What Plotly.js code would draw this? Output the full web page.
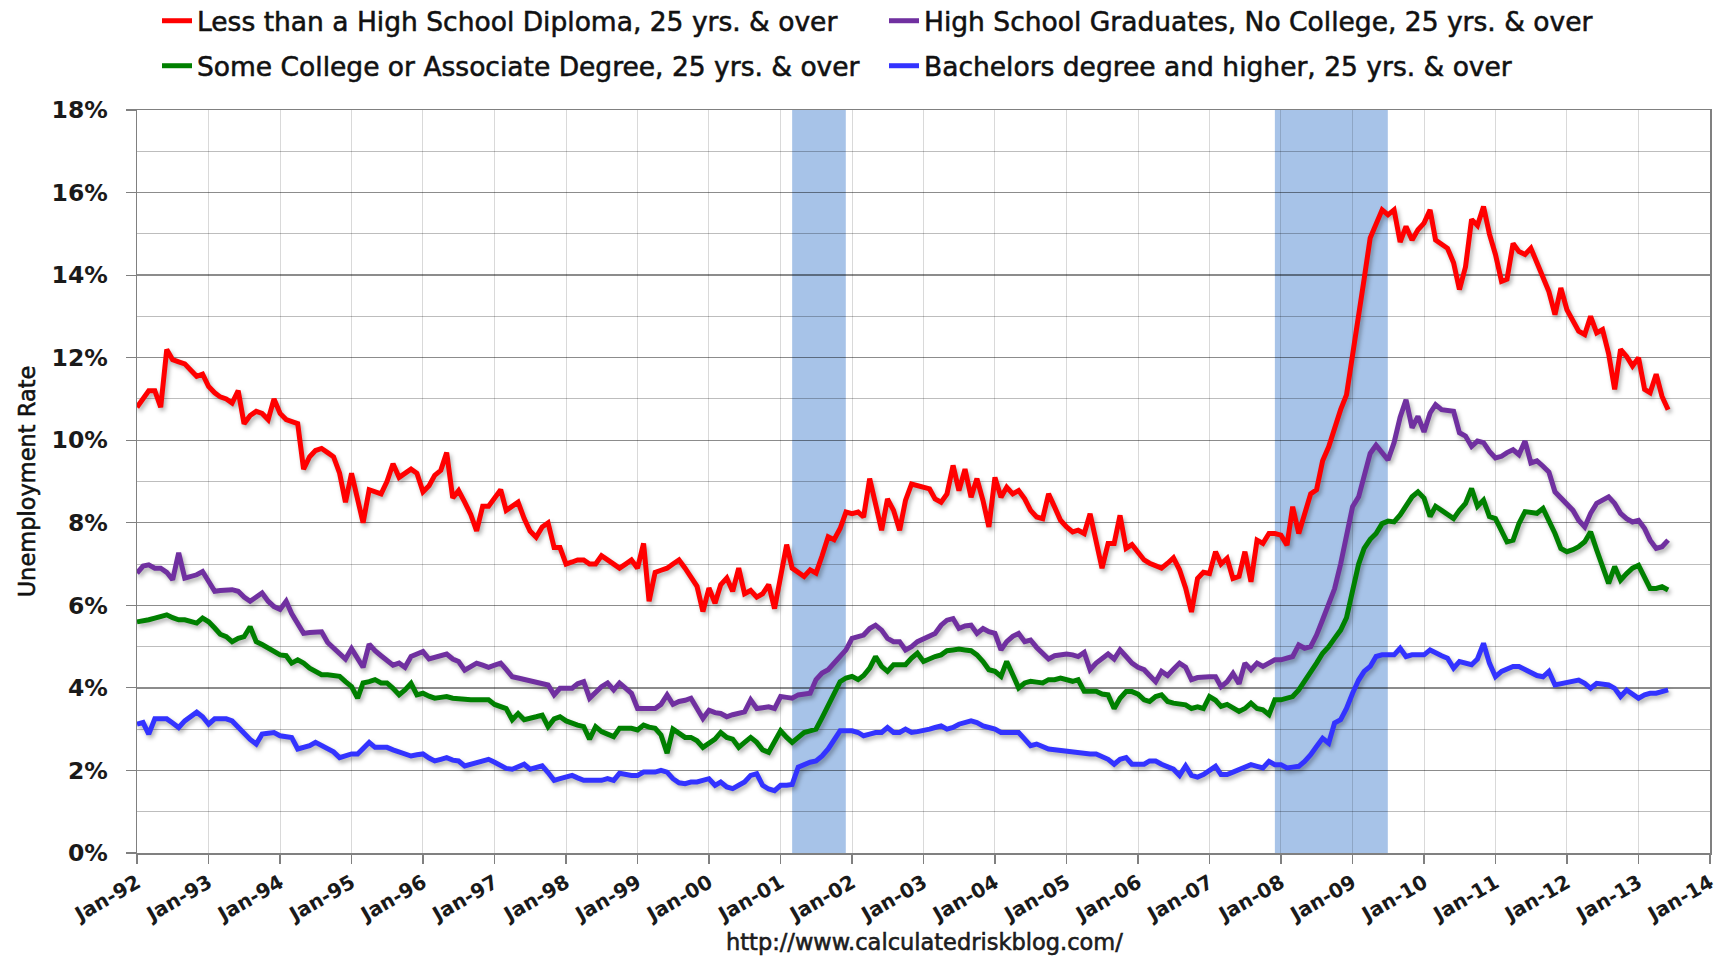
<!DOCTYPE html>
<html>
<head>
<meta charset="utf-8">
<script src="https://cdn.plot.ly/plotly-3.0.1.min.js"></script>
<style>
  html, body { margin: 0; padding: 0; background: #ffffff; }
  #chart { width: 1722px; height: 958px; }
  .scatterlayer .trace .js-line { filter: drop-shadow(2px 3px 2px rgba(0,0,0,0.30)); }
  .infolayer text { stroke: #111111 !important; stroke-width: 0.55px !important; }
</style>
</head>
<body>
<div id="chart"></div>
<script>
// Monthly series, Jan 1992 .. Jun 2013 (values in %)
const startYear = 1992;

const lessThanHS = [
  10.8, 11.0, 11.2, 11.2, 10.8, 12.2, 11.95, 11.9, 11.85, 11.7, 11.55, 11.6,   // 1992
  11.3, 11.15, 11.05, 11.0, 10.9, 11.2, 10.4, 10.6, 10.7, 10.65, 10.5, 11.0,   // 1993
  10.65, 10.5, 10.45, 10.4, 9.3, 9.6, 9.75, 9.8, 9.7, 9.6, 9.2, 8.5,           // 1994
  9.2, 8.6, 8.0, 8.8, 8.75, 8.7, 9.0, 9.43, 9.1, 9.2, 9.3, 9.2,                // 1995
  8.75, 8.9, 9.15, 9.27, 9.7, 8.6, 8.78, 8.5, 8.2, 7.8, 8.4, 8.4,              // 1996
  8.6, 8.8, 8.3, 8.4, 8.5, 8.1, 7.8, 7.65, 7.9, 8.0, 7.4, 7.4,                 // 1997
  7.0, 7.05, 7.1, 7.1, 7.0, 7.0, 7.2, 7.1, 7.0, 6.9, 7.0, 7.1,                 // 1998
  6.9, 7.5, 6.1, 6.8, 6.85, 6.9, 7.0, 7.1, 6.9, 6.7, 6.46, 5.85,               // 1999
  6.42, 6.05, 6.5, 6.66, 6.34, 6.9, 6.28, 6.36, 6.2, 6.28, 6.5, 5.92,          // 2000
  6.7, 7.47, 6.9, 6.78, 6.7, 6.86, 6.78, 7.2, 7.66, 7.59, 7.86, 8.26,          // 2001
  8.22, 8.26, 8.14, 9.07, 8.5, 7.82, 8.58, 8.3, 7.82, 8.54, 8.94, 8.9,         // 2002
  8.86, 8.82, 8.58, 8.5, 8.7, 9.39, 8.78, 9.3, 8.62, 9.07, 8.54, 7.9,          // 2003
  9.1, 8.62, 8.86, 8.7, 8.78, 8.58, 8.3, 8.14, 8.1, 8.7, 8.38, 8.06,           // 2004
  7.9, 7.78, 7.82, 7.74, 8.22, 7.5, 6.9, 7.5, 7.5, 8.18, 7.38, 7.47,           // 2005
  7.27, 7.1, 7.02, 6.95, 6.9, 7.02, 7.15, 6.86, 6.42, 5.84, 6.65, 6.8,         // 2006
  6.77, 7.3, 7.0, 7.14, 6.65, 6.7, 7.3, 6.57, 7.58, 7.5, 7.74, 7.74,           // 2007
  7.7, 7.46, 8.39, 7.74, 8.18, 8.7, 8.8, 9.5, 9.84, 10.3, 10.74, 11.1,         // 2008
  12.0, 13.0, 13.9, 14.9, 15.26, 15.58, 15.46, 15.58, 14.8, 15.18, 14.85, 15.1, // 2009
  15.26, 15.58, 14.85, 14.75, 14.65, 14.3, 13.65, 14.2, 15.35, 15.2, 15.66, 15.0, // 2010
  14.5, 13.85, 13.9, 14.77, 14.57, 14.5, 14.65, 14.3, 13.97, 13.6, 13.04, 13.69, // 2011
  13.16, 12.92, 12.64, 12.56, 13.0, 12.6, 12.68, 12.1, 11.23, 12.2, 12.03, 11.8, // 2012
  12.0, 11.23, 11.15, 11.6, 11.06, 10.74                                        // 2013
];

const hsGrad = [
  6.78, 6.95, 6.98, 6.9, 6.9, 6.8, 6.62, 7.27, 6.66, 6.7, 6.74, 6.82,          // 1992
  6.6, 6.34, 6.36, 6.38, 6.38, 6.34, 6.2, 6.1, 6.2, 6.3, 6.1, 5.97,            // 1993
  5.9, 6.1, 5.8, 5.57, 5.32, 5.34, 5.36, 5.36, 5.1, 4.98, 4.85, 4.7,           // 1994
  4.95, 4.7, 4.5, 5.06, 4.9, 4.78, 4.66, 4.55, 4.6, 4.5, 4.76, 4.82,           // 1995
  4.88, 4.7, 4.74, 4.78, 4.82, 4.7, 4.64, 4.43, 4.5, 4.6, 4.55, 4.5,           // 1996
  4.55, 4.6, 4.45, 4.27, 4.24, 4.2, 4.18, 4.15, 4.1, 4.07, 3.83, 3.99,         // 1997
  3.99, 3.99, 4.1, 4.15, 3.75, 3.9, 4.03, 4.12, 3.95, 4.12, 4.0, 3.87,         // 1998
  3.5, 3.5, 3.5, 3.5, 3.6, 3.83, 3.6, 3.67, 3.7, 3.75, 3.5, 3.26,              // 1999
  3.46, 3.4, 3.38, 3.3, 3.35, 3.38, 3.42, 3.71, 3.5, 3.52, 3.54, 3.5,          // 2000
  3.79, 3.77, 3.75, 3.83, 3.85, 3.87, 4.2, 4.36, 4.44, 4.6, 4.76, 4.92,        // 2001
  5.2, 5.25, 5.28, 5.44, 5.52, 5.4, 5.2, 5.12, 5.12, 4.92, 5.0, 5.12,          // 2002
  5.2, 5.28, 5.32, 5.52, 5.64, 5.68, 5.44, 5.5, 5.52, 5.32, 5.44, 5.36,        // 2003
  5.32, 4.92, 5.12, 5.25, 5.32, 5.12, 5.16, 4.98, 4.85, 4.7, 4.78, 4.8,        // 2004
  4.82, 4.8, 4.76, 4.86, 4.44, 4.6, 4.7, 4.82, 4.7, 4.92, 4.76, 4.6,           // 2005
  4.5, 4.44, 4.3, 4.15, 4.4, 4.3, 4.45, 4.6, 4.5, 4.2, 4.25, 4.27,             // 2006
  4.27, 4.27, 4.03, 4.15, 4.35, 4.1, 4.6, 4.44, 4.6, 4.52, 4.6, 4.68,          // 2007
  4.68, 4.72, 4.76, 5.04, 4.96, 5.0, 5.28, 5.65, 6.05, 6.4, 7.0, 7.7,          // 2008
  8.39, 8.63, 9.19, 9.68, 9.88, 9.68, 9.52, 9.94, 10.56, 10.98, 10.3, 10.58,   // 2009
  10.2, 10.66, 10.86, 10.74, 10.72, 10.7, 10.18, 10.1, 9.85, 9.98, 9.94, 9.73, // 2010
  9.57, 9.61, 9.7, 9.77, 9.65, 9.98, 9.45, 9.5, 9.37, 9.23, 8.75, 8.6,         // 2011
  8.45, 8.3, 8.06, 7.9, 8.23, 8.47, 8.55, 8.63, 8.47, 8.23, 8.1, 8.02,         // 2012
  8.06, 7.86, 7.58, 7.38, 7.42, 7.58                                           // 2013
];

const someCollege = [
  5.6, 5.62, 5.65, 5.69, 5.72, 5.77, 5.7, 5.65, 5.65, 5.62, 5.57, 5.69,        // 1992
  5.6, 5.45, 5.3, 5.24, 5.12, 5.2, 5.24, 5.48, 5.12, 5.05, 4.96, 4.9,          // 1993
  4.8, 4.78, 4.6, 4.68, 4.6, 4.48, 4.4, 4.32, 4.32, 4.3, 4.28, 4.15,           // 1994
  4.03, 3.75, 4.12, 4.15, 4.2, 4.12, 4.12, 3.99, 3.83, 3.95, 4.11, 3.83,       // 1995
  3.87, 3.8, 3.75, 3.77, 3.79, 3.75, 3.73, 3.71, 3.71, 3.71, 3.71, 3.71,       // 1996
  3.6, 3.55, 3.5, 3.23, 3.38, 3.23, 3.28, 3.3, 3.34, 3.06, 3.25, 3.3,          // 1997
  3.2, 3.14, 3.1, 3.06, 2.76, 3.06, 2.94, 2.88, 2.82, 3.02, 3.02, 3.02,        // 1998
  2.98, 3.1, 3.05, 3.02, 2.86, 2.42, 3.0, 2.9, 2.8, 2.8, 2.72, 2.56,           // 1999
  2.65, 2.76, 2.92, 2.8, 2.76, 2.56, 2.68, 2.8, 2.68, 2.5, 2.44, 2.7,          // 2000
  2.96, 2.8, 2.68, 2.8, 2.92, 2.96, 3.0, 3.28, 3.56, 3.83, 4.15, 4.24,         // 2001
  4.28, 4.2, 4.3, 4.48, 4.76, 4.52, 4.4, 4.56, 4.56, 4.56, 4.72, 4.84,         // 2002
  4.64, 4.72, 4.76, 4.8, 4.9, 4.92, 4.94, 4.92, 4.9, 4.8, 4.64, 4.44,          // 2003
  4.4, 4.28, 4.64, 4.32, 4.0, 4.12, 4.16, 4.14, 4.12, 4.2, 4.2, 4.24,          // 2004
  4.2, 4.16, 4.2, 3.92, 3.92, 3.92, 3.85, 3.83, 3.5, 3.75, 3.91, 3.91,         // 2005
  3.85, 3.71, 3.67, 3.79, 3.83, 3.67, 3.63, 3.6, 3.59, 3.5, 3.54, 3.5,         // 2006
  3.79, 3.7, 3.55, 3.6, 3.5, 3.43, 3.5, 3.63, 3.5, 3.47, 3.35, 3.71,           // 2007
  3.71, 3.75, 3.79, 3.95, 4.15, 4.35, 4.6, 4.84, 5.0, 5.2, 5.4, 5.7,           // 2008
  6.29, 7.0, 7.38, 7.6, 7.74, 7.98, 8.04, 8.02, 8.19, 8.43, 8.63, 8.75,        // 2009
  8.6, 8.15, 8.4, 8.3, 8.19, 8.1, 8.3, 8.47, 8.83, 8.4, 8.55, 8.15,            // 2010
  8.1, 7.82, 7.54, 7.58, 7.98, 8.27, 8.25, 8.23, 8.35, 8.06, 7.74, 7.38,       // 2011
  7.3, 7.35, 7.42, 7.54, 7.78, 7.34, 6.9, 6.53, 6.94, 6.61, 6.77, 6.9,         // 2012
  6.97, 6.69, 6.41, 6.41, 6.45, 6.37                                           // 2013
];

const bachelors = [
  3.12, 3.16, 2.88, 3.25, 3.25, 3.25, 3.15, 3.04, 3.2, 3.29, 3.41, 3.3,        // 1992
  3.12, 3.25, 3.25, 3.25, 3.2, 3.04, 2.9, 2.75, 2.64, 2.88, 2.9, 2.92,         // 1993
  2.84, 2.82, 2.8, 2.52, 2.55, 2.6, 2.68, 2.6, 2.52, 2.45, 2.31, 2.35,         // 1994
  2.4, 2.4, 2.55, 2.68, 2.56, 2.56, 2.56, 2.5, 2.44, 2.4, 2.35, 2.38,          // 1995
  2.4, 2.3, 2.23, 2.27, 2.31, 2.25, 2.23, 2.11, 2.15, 2.2, 2.25, 2.27,         // 1996
  2.2, 2.11, 2.05, 2.03, 2.1, 2.15, 2.03, 2.06, 2.11, 1.95, 1.76, 1.8,         // 1997
  1.85, 1.88, 1.82, 1.76, 1.76, 1.76, 1.76, 1.8, 1.76, 1.93, 1.9, 1.88,        // 1998
  1.88, 1.96, 1.96, 1.96, 2.0, 1.96, 1.8, 1.7, 1.68, 1.72, 1.72, 1.76,         // 1999
  1.8, 1.64, 1.72, 1.6, 1.56, 1.64, 1.72, 1.88, 1.92, 1.64, 1.55, 1.51,        // 2000
  1.64, 1.64, 1.66, 2.08, 2.15, 2.2, 2.23, 2.35, 2.52, 2.72, 2.96, 2.96,       // 2001
  2.96, 2.92, 2.84, 2.88, 2.92, 2.92, 3.04, 2.92, 2.92, 3.0, 2.92, 2.94,       // 2002
  2.96, 3.0, 3.04, 3.08, 3.0, 3.04, 3.12, 3.16, 3.2, 3.16, 3.08, 3.04,         // 2003
  3.0, 2.92, 2.92, 2.92, 2.92, 2.76, 2.6, 2.64, 2.58, 2.52, 2.5, 2.48,         // 2004
  2.46, 2.44, 2.42, 2.4, 2.4, 2.4, 2.35, 2.27, 2.15, 2.27, 2.31, 2.15,         // 2005
  2.15, 2.15, 2.23, 2.23, 2.15, 2.1, 2.03, 1.88, 2.11, 1.88, 1.84, 1.9,        // 2006
  2.0, 2.1, 1.9, 1.9, 1.96, 2.02, 2.1, 2.14, 2.1, 2.06, 2.22, 2.14,            // 2007
  2.14, 2.06, 2.08, 2.1, 2.22, 2.38, 2.58, 2.78, 2.66, 3.15, 3.23, 3.5,        // 2008
  3.87, 4.19, 4.4, 4.52, 4.76, 4.8, 4.8, 4.8, 4.96, 4.76, 4.8, 4.8,            // 2009
  4.8, 4.92, 4.84, 4.78, 4.72, 4.48, 4.64, 4.6, 4.56, 4.7, 5.08, 4.6,          // 2010
  4.27, 4.4, 4.45, 4.52, 4.52, 4.44, 4.35, 4.3, 4.27, 4.4, 4.07, 4.1,          // 2011
  4.11, 4.15, 4.19, 4.11, 3.99, 4.11, 4.1, 4.07, 3.99, 3.79, 3.95, 3.85,       // 2012
  3.75, 3.83, 3.87, 3.87, 3.91, 3.95                                           // 2013
];

const seriesNames = [
  'Less than a High School Diploma, 25 yrs. & over',
  'High School Graduates, No College, 25 yrs. & over',
  'Some College or Associate Degree, 25 yrs. & over',
  'Bachelors degree and higher, 25 yrs. & over'
];
const seriesColors = ['#ff0000', '#7030a0', '#008000', '#3333ff'];

const recessionStart = ['2001-03-01', '2007-12-01'];
const recessionEnd   = ['2001-11-30', '2009-06-30'];

const sourceText = 'http://www.calculatedriskblog.com/';
const yTitle = 'Unemployment Rate';

// month dates
function monthDates(n) {
  const out = [];
  for (let i = 0; i < n; i++) {
    const y = startYear + Math.floor(i / 12);
    const m = (i % 12) + 1;
    out.push(y + '-' + (m < 10 ? '0' + m : m) + '-01');
  }
  return out;
}

const allSeries = [lessThanHS, hsGrad, someCollege, bachelors];
const legendIds = ['legend', 'legend2', 'legend3', 'legend4'];

const traces = allSeries.map((vals, i) => ({
  type: 'scatter',
  mode: 'lines',
  x: monthDates(vals.length),
  y: vals,
  name: seriesNames[i],
  legend: legendIds[i],
  line: { color: seriesColors[i], width: 5 },
  hoverinfo: 'x+y+name'
}));

const legendFont = { family: 'DejaVu Sans, Verdana, sans-serif', size: 26.5, color: '#111111' };
function leg(xpx, ypx) {
  return {
    xref: 'container', yref: 'container',
    x: xpx / 1722, y: 1 - ypx / 958,
    xanchor: 'left', yanchor: 'middle',
    orientation: 'h',
    bgcolor: 'rgba(0,0,0,0)',
    borderwidth: 0,
    font: legendFont
  };
}

const shapes = recessionStart.map((s, i) => ({
  type: 'rect', layer: 'below',
  xref: 'x', yref: 'paper',
  x0: s, x1: recessionEnd[i], y0: 0, y1: 1,
  fillcolor: '#a7c3e8', line: { width: 0 }
}));

const layout = {
  width: 1722, height: 958,
  margin: { l: 137, r: 12, t: 110, b: 105 },
  paper_bgcolor: '#ffffff',
  plot_bgcolor: '#ffffff',
  showlegend: true,
  legend: leg(157, 21),
  legend2: leg(884, 21),
  legend3: leg(157, 66),
  legend4: leg(884, 66),
  xaxis: {
    type: 'date',
    range: ['1992-01-01', '2014-01-01'],
    tick0: '1992-01-01',
    dtick: 'M12',
    tickformat: '%b-%y',
    tickangle: -30,
    ticks: 'outside', ticklen: 9, tickcolor: '#808080', tickwidth: 1.2,
    showgrid: true, gridcolor: 'rgba(0,0,0,0.15)', gridwidth: 1,
    showline: true, linecolor: '#808080', linewidth: 1.5, mirror: true,
    zeroline: false,
    tickfont: { family: 'DejaVu Sans, Verdana, sans-serif', size: 20, weight: 'bold', color: '#1a1a1a' }
  },
  yaxis: {
    range: [0, 18],
    tick0: 0, dtick: 2,
    ticksuffix: '%',
    ticks: 'outside', ticklen: 10, tickcolor: '#808080', tickwidth: 1.2,
    ticklabelstandoff: 13,
    showgrid: true, gridcolor: 'rgba(0,0,0,0.45)', gridwidth: 1.3,
    minor: { dtick: 1, showgrid: true, gridcolor: 'rgba(0,0,0,0.26)', gridwidth: 1, ticks: '' },
    showline: true, linecolor: '#808080', linewidth: 1.5, mirror: true,
    zeroline: false,
    tickfont: { family: 'DejaVu Sans, Verdana, sans-serif', size: 23.5, weight: 'bold', color: '#1a1a1a' },
    title: { text: yTitle, font: { family: 'DejaVu Sans, Verdana, sans-serif', size: 22.5, color: '#111111' }, standoff: 9 }
  },
  shapes: shapes,
  annotations: [{
    text: sourceText, showarrow: false,
    xref: 'paper', yref: 'paper',
    x: (924 - 137) / 1573, y: -(942 - 853) / 743,
    xanchor: 'center', yanchor: 'middle',
    font: { family: 'DejaVu Sans, Verdana, sans-serif', size: 22.5, color: '#222222' }
  }]
};

function thickenText() {
  document.querySelectorAll('#chart text.legendtext, #chart .infolayer text, #chart text.ytitle').forEach(el => {
    el.style.setProperty('stroke', '#111111', 'important');
    el.style.setProperty('stroke-width', '0.55px', 'important');
  });
}

Plotly.newPlot('chart', traces, layout, { displayModeBar: false, staticPlot: true }).then(() => {
  thickenText();
  setTimeout(thickenText, 50);
});
</script>
</body>
</html>
